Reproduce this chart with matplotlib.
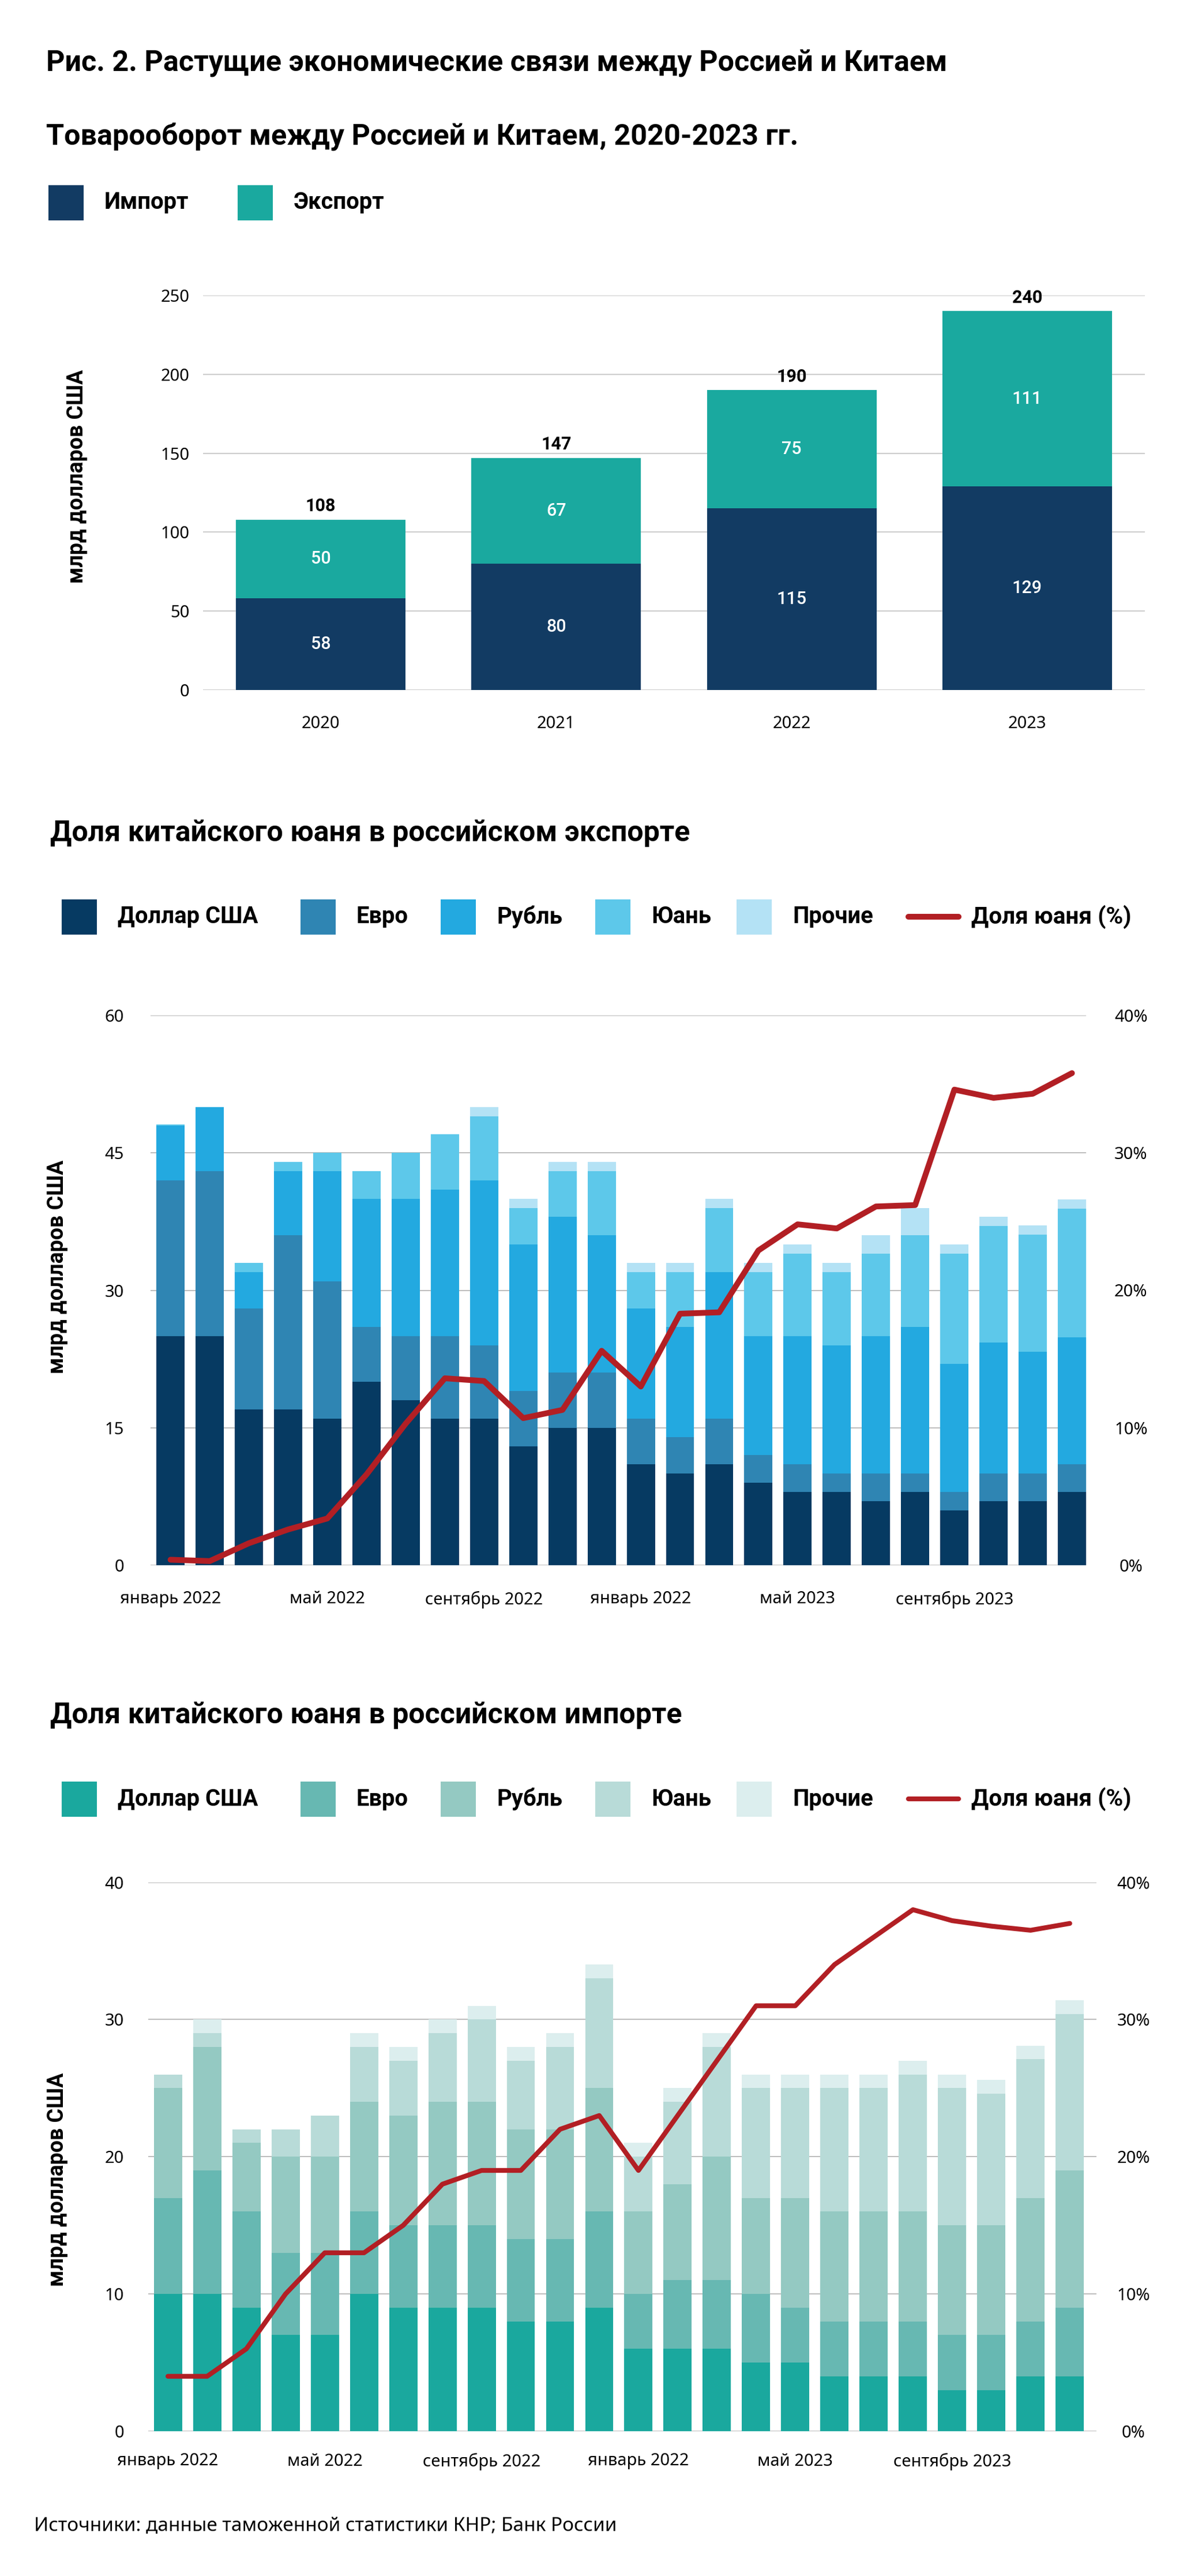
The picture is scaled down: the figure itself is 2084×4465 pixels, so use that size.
import matplotlib

matplotlib.use("Agg")

import matplotlib.pyplot as plt
import numpy as np
from matplotlib.lines import Line2D
from matplotlib.patches import Rectangle

W, H = 2084, 4465
DPI = 200

TITLE_FONT = ["Roboto", "DejaVu Sans"]
BODY_FONT = ["Noto Sans", "DejaVu Sans"]
plt.rcParams["font.family"] = BODY_FONT

# --- data: trade turnover ---
years = ["2020", "2021", "2022", "2023"]
imports = [58, 80, 115, 129]
exports = [50, 67, 75, 111]

# --- data: monthly currency structure, Jan 2022 - Dec 2023 (bln USD) ---
month_ticks = [0, 4, 8, 12, 16, 20]
month_labels = ["январь 2022", "май 2022", "сентябрь 2022",
                "январь 2022", "май 2023", "сентябрь 2023"]
currency_names = ["Доллар США", "Евро", "Рубль", "Юань", "Прочие"]

exp_usd = [25, 25, 17, 17, 16, 20, 18, 16, 16, 13, 15, 15,
           11, 10, 11, 9, 8, 8, 7, 8, 6, 7, 7, 8]
exp_eur = [17, 18, 11, 19, 15, 6, 7, 9, 8, 6, 6, 6,
           5, 4, 5, 3, 3, 2, 3, 2, 2, 3, 3, 3]
exp_rub = [6, 7, 4, 7, 12, 14, 15, 16, 18, 16, 17, 15,
           12, 12, 16, 13, 14, 14, 15, 16, 14, 14.3, 13.3, 13.9]
exp_cny = [0.1, 0, 1, 1, 2, 3, 5, 6, 7, 4, 5, 7,
           4, 6, 7, 7, 9, 8, 9, 10, 12, 12.7, 12.8, 14]
exp_oth = [0, 0, 0, 0, 0, 0, 0, 0, 1, 1, 1, 1,
           1, 1, 1, 1, 1, 1, 2, 3, 1, 1, 1, 1]
exp_cny_share = [0.4, 0.3, 1.6, 2.6, 3.4, 6.6, 10.3, 13.6, 13.4, 10.7, 11.3, 15.6,
                 13.0, 18.3, 18.4, 22.9, 24.8, 24.5, 26.1, 26.2, 34.6, 34.0, 34.3, 35.8]

imp_usd = [10, 10, 9, 7, 7, 10, 9, 9, 9, 8, 8, 9,
           6, 6, 6, 5, 5, 4, 4, 4, 3, 3, 4, 4]
imp_eur = [7, 9, 7, 6, 6, 6, 6, 6, 6, 6, 6, 7,
           4, 5, 5, 5, 4, 4, 4, 4, 4, 4, 4, 5]
imp_rub = [8, 9, 5, 7, 7, 8, 8, 9, 9, 8, 8, 9,
           6, 7, 9, 7, 8, 8, 8, 8, 8, 8, 9, 10]
imp_cny = [1, 1, 1, 2, 3, 4, 4, 5, 6, 5, 6, 8,
           4, 6, 8, 8, 8, 9, 9, 10, 10, 9.6, 10.1, 11.4]
imp_oth = [0, 1, 0, 0, 0, 1, 1, 1, 1, 1, 1, 1,
           1, 1, 1, 1, 1, 1, 1, 1, 1, 1, 1, 1]
imp_cny_share = [4, 4, 6, 10, 13, 13, 15, 18, 19, 19, 22, 23,
                 19, 23, 27, 31, 31, 34, 36, 38, 37.2, 36.8, 36.5, 37.0]

# --- colours ---
C_IMPORT = "#123B63"
C_EXPORT = "#1AA99F"
EXP_COLORS = ["#063A62", "#2F85B3", "#23A9E0", "#5DC8EA", "#B4E2F5"]
IMP_COLORS = ["#1AA89E", "#67B8B2", "#94C9C2", "#B8DBD8", "#DCEEEE"]
RED = "#B21F24"
GRID1 = "#CFCFCF"
GRID2 = "#ABABAB"


def add_axes(fig, left, top, right, bottom):
    return fig.add_axes([left / W, 1 - bottom / H, (right - left) / W, (bottom - top) / H])


def ftext(fig, x, y, s, **kw):
    return fig.text(x / W, 1 - y / H, s, **kw)


def legend_square(fig, x, y_top, color, label, size=61):
    fig.add_artist(Rectangle((x / W, 1 - (y_top + size) / H), size / W, size / H,
                             transform=fig.transFigure, facecolor=color, edgecolor="none"))
    ftext(fig, x + size + 36, y_top + size / 2, label, ha="left", va="center",
          fontsize=14.4, fontweight="bold", family=TITLE_FONT)


def clean(ax):
    for s in ax.spines.values():
        s.set_visible(False)
    ax.tick_params(length=0)


fig = plt.figure(figsize=(W / DPI, H / DPI), dpi=DPI)

# titles
ftext(fig, 80, 123, "Рис. 2. Растущие экономические связи между Россией и Китаем",
      fontsize=18.1, fontweight="bold", family=TITLE_FONT, va="baseline")
ftext(fig, 80, 252, "Товарооборот между Россией и Китаем, 2020-2023 гг.",
      fontsize=18.1, fontweight="bold", family=TITLE_FONT, va="baseline")

legend_square(fig, 84, 321, C_IMPORT, "Импорт")
legend_square(fig, 412, 321, C_EXPORT, "Экспорт")

# ---------- chart 1 ----------
ax1 = add_axes(fig, 352, 512, 1985, 1196)
clean(ax1)
x1 = np.arange(len(years))
ax1.bar(x1, imports, width=0.72, color=C_IMPORT, zorder=2)
ax1.bar(x1, exports, width=0.72, bottom=imports, color=C_EXPORT, zorder=2)
ax1.set_xlim(-0.5, 3.5)
ax1.set_ylim(0, 250)
ax1.set_yticks(range(0, 251, 50))
ax1.set_xticks(x1)
ax1.set_xticklabels(years)
ax1.grid(axis="y", color=GRID1, lw=0.8)
ax1.set_axisbelow(True)
ax1.tick_params(axis="y", pad=8.5, labelsize=10.5)
ax1.tick_params(axis="x", pad=16, labelsize=10.5)
for i in x1:
    ax1.text(i, imports[i] / 2, str(imports[i]), ha="center", va="center",
             color="white", fontsize=11, fontweight="medium", family=TITLE_FONT, zorder=3)
    ax1.text(i, imports[i] + exports[i] / 2, str(exports[i]), ha="center", va="center",
             color="white", fontsize=11, fontweight="medium", family=TITLE_FONT, zorder=3)
    ax1.annotate(str(imports[i] + exports[i]), (i, imports[i] + exports[i]),
                 xytext=(0, 3), textcoords="offset points", ha="center", va="bottom",
                 fontsize=11, fontweight="bold", family=TITLE_FONT, zorder=3)
ftext(fig, 133, 826, "млрд долларов США", rotation=90, ha="center", va="center",
      fontsize=13.5, fontweight="bold", family=TITLE_FONT)


def currency_chart(box, xlim, ymax, ystep, series, colors, share, share_lw,
                   ylab_y, lpad, rpad, xpad, grid_color):
    ax = add_axes(fig, *box)
    clean(ax)
    x = np.arange(len(share))
    bottom = np.zeros(len(share))
    for vals, col in zip(series, colors):
        ax.bar(x, vals, width=0.72, bottom=bottom, color=col, zorder=2)
        bottom += np.array(vals, dtype=float)
    ax.set_xlim(*xlim)
    ax.set_ylim(0, ymax)
    ax.set_yticks(np.arange(0, ymax + 0.1, ystep))
    ax.set_xticks(month_ticks)
    ax.set_xticklabels(month_labels)
    ax.grid(axis="y", color=grid_color, lw=0.55)
    ax.set_axisbelow(True)
    ax.tick_params(axis="y", pad=lpad, labelsize=10.5)
    ax.tick_params(axis="x", pad=xpad, labelsize=10.5)

    ax2 = ax.twinx()
    clean(ax2)
    ax2.plot(x, share, color=RED, lw=share_lw, solid_capstyle="round", zorder=4)
    ax2.set_ylim(0, 40)
    ax2.set_yticks(range(0, 41, 10))
    ax2.set_yticklabels([f"{v}%" for v in range(0, 41, 10)])
    ax2.tick_params(axis="y", pad=rpad, labelsize=10.5)
    for lab in ax2.get_yticklabels():
        lab.set_horizontalalignment("center")
    ftext(fig, 100, ylab_y, "млрд долларов США", rotation=90, ha="center", va="center",
          fontsize=13.5, fontweight="bold", family=TITLE_FONT)
    return ax


def currency_legend(y_top, colors, share_lw):
    xs = [107, 521, 764, 1032, 1277]
    for xpos, col, name in zip(xs, colors, currency_names):
        legend_square(fig, xpos, y_top, col, name)
    yc = 1 - (y_top + 30) / H
    fig.add_artist(Line2D([1575 / W, 1662 / W], [yc, yc], color=RED, lw=share_lw,
                          solid_capstyle="round", transform=fig.transFigure))
    ftext(fig, 1684, y_top + 30.5, "Доля юаня (%)", ha="left", va="center",
          fontsize=14.6, fontweight="bold", family=TITLE_FONT)


# ---------- chart 2: exports ----------
ftext(fig, 87, 1458, "Доля китайского юаня в российском экспорте",
      fontsize=18, fontweight="bold", family=TITLE_FONT, va="baseline")
currency_legend(1559, EXP_COLORS, 3.6)
currency_chart((261, 1760, 1883, 2713), (-0.51, 23.36), 60, 15,
               [exp_usd, exp_eur, exp_rub, exp_cny, exp_oth], EXP_COLORS,
               exp_cny_share, 3.6, 2196, 16.5, 28, 16, GRID2)

# ---------- chart 3: imports ----------
ftext(fig, 87, 2987, "Доля китайского юаня в российском импорте",
      fontsize=18, fontweight="bold", family=TITLE_FONT, va="baseline")
currency_legend(3088, IMP_COLORS, 3.0)
currency_chart((256.5, 3262.5, 1901, 4214), (-0.51, 23.68), 40, 10,
               [imp_usd, imp_eur, imp_rub, imp_cny, imp_oth], IMP_COLORS,
               imp_cny_share, 3.0, 3778, 15, 23, 13.5, GRID2)

ftext(fig, 59, 4387, "Источники: данные таможенной статистики КНР; Банк России",
      fontsize=12, va="baseline")

fig.savefig("out.png", dpi=DPI)
